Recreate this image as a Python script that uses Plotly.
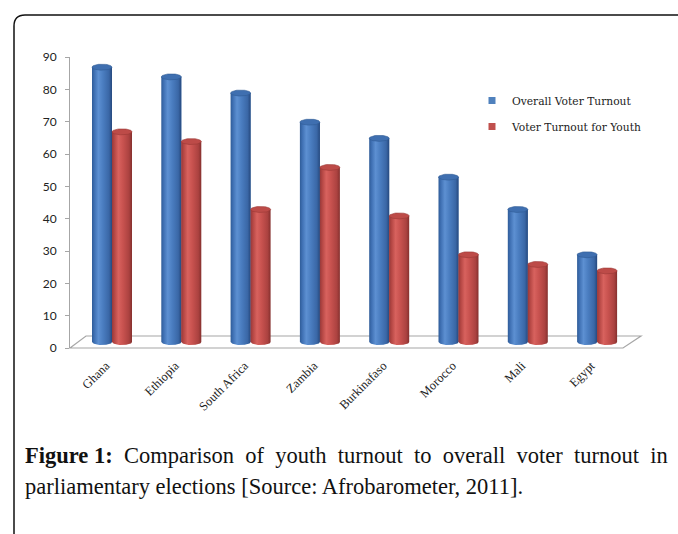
import numpy as np
import plotly.graph_objects as go

# Afrobarometer 2011: turnout in parliamentary elections (%)
countries = ["Ghana", "Ethiopia", "South Africa", "Zambia",
             "Burkinafaso", "Morocco", "Mali", "Egypt"]
overall_turnout = [85, 82, 77, 68, 63, 51, 41, 27]
youth_turnout = [65, 62, 41, 54, 39, 27, 24, 22]
y_ticks = [0, 10, 20, 30, 40, 50, 60, 70, 80, 90]

W, H = 678, 534
# plot area in pixels
L, R, T, B = 70, 641, 57, 348


def px(x):
    return (x - L) / (R - L)


def py(y):
    return (B - y) / (B - T)


# category axis: first category centre at 112 px, 69.3 px per category
x0_px, step_px = 112, 69.3
x_range = [(L - x0_px) / step_px, (R - x0_px) / step_px]
ppu = (348 - 57) / 90.0          # pixels per value unit
base_px = 342                    # floor mid-depth, where the cylinders stand
y2_range = [(base_px - B) / ppu, (base_px - T) / ppu]

r = 10 / step_px                 # cylinder radius in category units
e = 3 / ppu                      # ellipse half-height in value units

series = [
    dict(name="Overall Voter Turnout", vals=overall_turnout, off=-r,
         flat="#4f81bd",
         grad=[[0, "#2f5c98"], [0.12, "#3f70b3"], [0.32, "#5d90d2"],
               [0.55, "#4a7dc0"], [0.85, "#3a67a6"], [1, "#26497e"]],
         cap="#3f6fb0", capline="#2f5a94"),
    dict(name="Voter Turnout for Youth", vals=youth_turnout, off=r,
         flat="#c0504d",
         grad=[[0, "#97393a"], [0.12, "#b54744"], [0.32, "#d8625e"],
               [0.55, "#c8524f"], [0.85, "#ab4240"], [1, "#85302e"]],
         cap="#bd4b48", capline="#9a3936"),
]

fig = go.Figure()

# flat bars carry the values; cylinder shading is laid over them
for s in series:
    fig.add_trace(go.Bar(
        x=list(range(len(countries))), y=s["vals"], name=s["name"],
        marker=dict(color=s["flat"], line=dict(width=0)),
        yaxis="y2", showlegend=False,
        hovertemplate="%{text}: %{y}<extra>" + s["name"] + "</extra>",
        text=countries, textposition="none",
    ))

th_low = np.linspace(0, -np.pi, 40)
th_full = np.linspace(0, 2 * np.pi, 60)
for s in series:
    for i, v in enumerate(s["vals"]):
        c = i + s["off"]
        bx = np.concatenate([c + r * np.cos(th_low), [c - r, c + r, c + r]])
        by = np.concatenate([e * np.sin(th_low), [v, v, 0]])
        fig.add_trace(go.Scatter(
            x=bx, y=by, mode="lines", fill="toself", yaxis="y2",
            line=dict(width=0), showlegend=False, hoverinfo="skip",
            fillgradient=dict(type="horizontal", colorscale=s["grad"]),
        ))
        fig.add_trace(go.Scatter(
            x=c + r * np.cos(th_full), y=v + e * np.sin(th_full),
            mode="lines", fill="toself", yaxis="y2",
            fillcolor=s["cap"], line=dict(width=0.6, color=s["capline"]),
            showlegend=False, hoverinfo="skip",
        ))

# legend keys
for k, s in enumerate(series):
    fig.add_trace(go.Scatter(
        x=[None], y=[None], mode="markers", name=s["name"],
        legendgroup=f"g{k}",
        marker=dict(symbol="square", size=7, color=s["flat"]),
    ))

# floor of the 3D plot
floor = [(L, B), (86, 336), (R, 336), (623, B)]
floor_path = "M " + " L ".join(f"{px(a):.5f},{py(b):.5f}" for a, b in floor) + " Z"

# frame round the figure, rounded top-left corner
frame_path = (f"M {px(14):.5f},{py(540):.5f} L {px(14):.5f},{py(26):.5f} "
              f"Q {px(14):.5f},{py(15):.5f} {px(25):.5f},{py(15):.5f} "
              f"L {px(685):.5f},{py(15):.5f}")

# caption: first line set justified by widening the word gaps
gap = " \u00a0"
caption_1 = "<b>Figure 1:</b>" + gap + gap.join(
    "Comparison of youth turnout to overall voter turnout in".split(" "))
caption_2 = "parliamentary elections [Source: Afrobarometer, 2011]."
cap_font = dict(family="Liberation Serif", size=22.5, color="#111")

fig.update_layout(
    width=W, height=H,
    margin=dict(l=L, r=W - R, t=T, b=H - B),
    paper_bgcolor="white", plot_bgcolor="rgba(0,0,0,0)",
    barmode="group", bargap=1 - 2 * r, bargroupgap=0,
    xaxis=dict(
        range=x_range, tickvals=list(range(len(countries))), ticktext=countries,
        tickangle=-45, showgrid=False, zeroline=False, showline=False,
        ticks="", ticklabelstandoff=7, ticklabelshift=-6,
        tickfont=dict(family="Liberation Serif", size=12.5, color="#222"),
    ),
    yaxis=dict(
        range=[0, 90], tickvals=y_ticks, showgrid=False, zeroline=False,
        showline=True, linecolor="#a6a6a6", linewidth=1,
        ticks="outside", ticklen=4, tickcolor="#a6a6a6", ticklabelstandoff=6,
        tickfont=dict(family="Lato", size=12, color="#222"),
    ),
    yaxis2=dict(range=y2_range, overlaying="y", visible=False),
    showlegend=True,
    legend=dict(
        x=px(472), y=py(86), xanchor="left", yanchor="top",
        font=dict(family="DejaVu Serif", size=10.7, color="#222"),
        bgcolor="rgba(0,0,0,0)", traceorder="grouped", tracegroupgap=7,
        itemwidth=30,
    ),
    shapes=[
        dict(type="path", path=floor_path, xref="paper", yref="paper",
             fillcolor="white", line=dict(color="#a6a6a6", width=1.2),
             layer="below"),
        dict(type="path", path=frame_path, xref="paper", yref="paper",
             line=dict(color="#111", width=1.5)),
    ],
    annotations=[
        dict(text=caption_1, x=px(23), y=py(455), xref="paper", yref="paper",
             xanchor="left", yanchor="middle", showarrow=False, font=cap_font),
        dict(text=caption_2, x=px(23), y=py(486), xref="paper", yref="paper",
             xanchor="left", yanchor="middle", showarrow=False, font=cap_font),
    ],
)

fig.write_html("out.html")
